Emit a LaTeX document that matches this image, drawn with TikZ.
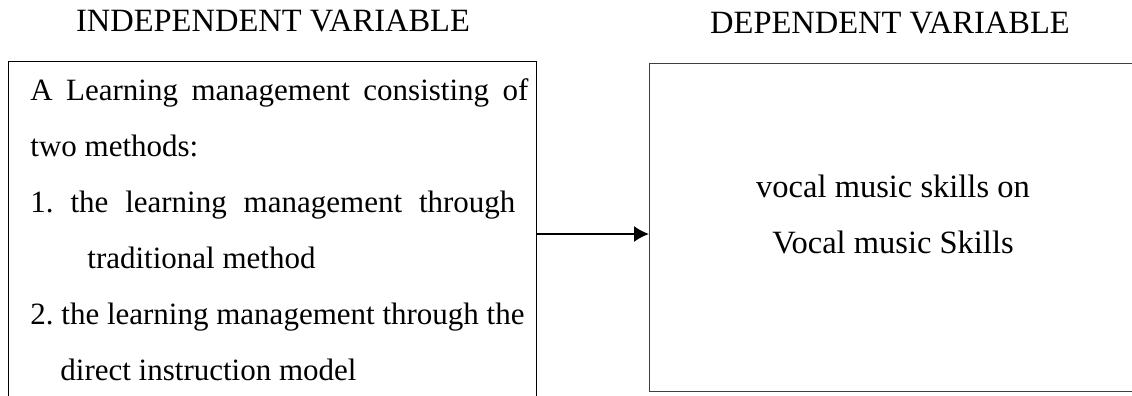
\documentclass[tikz,border=0pt]{standalone}
\usepackage{fontspec}
\setmainfont{Liberation Serif}
\usetikzlibrary{arrows.meta}
\frenchspacing

\tikzstyle{varbox}=[draw=black,line width=0.6pt,inner sep=0pt,anchor=north west]
\tikzstyle{line}=[anchor=base west,inner sep=0pt,font=\fontsize{15.5}{18}\selectfont]
\tikzstyle{head}=[anchor=base,inner sep=0pt,font=\fontsize{16.25}{19}\selectfont]
\tikzstyle{link}=[line width=0.9pt,-{Latex[length=7.5pt,width=8pt]}]

\begin{document}
\begin{tikzpicture}[x=0.5pt,y=0.5pt]
\useasboundingbox (0,0) rectangle (1132,-396);

% headings
\node[head] (indhead) at (273,-32) {INDEPENDENT VARIABLE};
\node[head] (dephead) at (890,-33) {DEPENDENT VARIABLE};

% boxes
\node[varbox,minimum width=264pt,minimum height=200pt] (indbox) at (8,-61) {};
\node[varbox,draw=black!75,minimum width=250.5pt,minimum height=164pt] (depbox) at (649,-63) {};

% left box text
\node[line] (l1) at (30,-100) {\makebox[249pt][s]{A Learning management consisting of}};
\node[line] (l2) at (30,-156) {two methods:};
\node[line] (l3) at (30,-212) {\makebox[242.5pt][s]{1. the learning management through}};
\node[line] (l4) at (87,-268) {traditional method};
\node[line] (l5) at (30,-324) {2. the learning management through the};
\node[line] (l6) at (60,-380) {direct instruction model};

% right box text
\node[head] (r1) at (893,-197) {vocal music skills on};
\node[head] (r2) at (893,-253) {Vocal music Skills};

% arrow
\coordinate (arr) at (0,-234);
\draw[link] (indbox.east |- arr) -- (depbox.west |- arr);

\end{tikzpicture}
\end{document}
